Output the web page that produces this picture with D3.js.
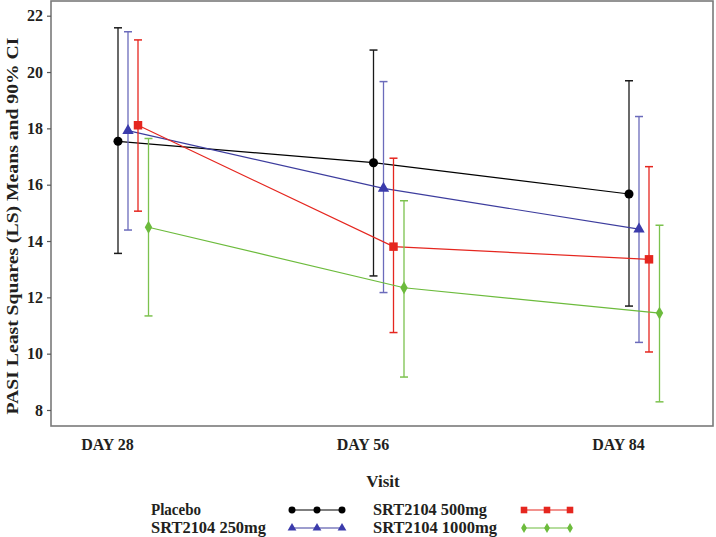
<!DOCTYPE html>
<html><head><meta charset="utf-8">
<script src="https://cdn.jsdelivr.net/npm/d3@7"></script>
<style>body{margin:0;background:#fff}svg{display:block}</style>
</head><body>
<svg id="c" width="716" height="537"></svg>
<script>
const days = ["DAY 28", "DAY 56", "DAY 84"];
const groups = ["Placebo", "SRT2104 250mg", "SRT2104 500mg", "SRT2104 1000mg"];
const yTicks = [8, 10, 12, 14, 16, 18, 20, 22];
// LS means and 90% CI (lower, upper) per group, per day
const placeboMean = [17.54, 16.78, 15.67];
const placeboLow  = [13.56, 12.76, 11.69];
const placeboHigh = [21.57, 20.78, 19.69];
const d250Mean = [17.92, 15.87, 14.42];
const d250Low  = [14.39, 12.17, 10.40];
const d250High = [21.43, 19.66, 18.42];
const d500Mean = [18.11, 13.80, 13.35];
const d500Low  = [15.06, 10.75, 10.06];
const d500High = [21.14, 16.94, 16.64];
const d1000Mean = [14.49, 12.34, 11.44];
const d1000Low  = [11.34, 9.17, 8.29];
const d1000High = [17.64, 15.43, 14.56];

const series = [
  {name: groups[0], mean: placeboMean, low: placeboLow, high: placeboHigh, line: "#000000", bar: "#1a1a1a", sym: "circle", fill: "#000"},
  {name: groups[1], mean: d250Mean, low: d250Low, high: d250High, line: "#3d3d9e", bar: "#6b6bbb", sym: "triangle", fill: "#3b3bab"},
  {name: groups[2], mean: d500Mean, low: d500Low, high: d500High, line: "#e5261f", bar: "#e5261f", sym: "square", fill: "#e5261f"},
  {name: groups[3], mean: d1000Mean, low: d1000Low, high: d1000High, line: "#6cbb3c", bar: "#7cc24e", sym: "diamond", fill: "#6cbb3c"}
];

const svg = d3.select("#c");
const font = "'Liberation Serif','Times New Roman',serif";
const frame = {l: 51, r: 713, t: 1, b: 426};

const x = d3.scalePoint().domain(days).range([107, 618]).padding(0);
const y = d3.scaleLinear().domain([8, 22]).range([410, 15.7]);
const offsets = [11, 21, 31, 41.5];

// frame
svg.append("rect").attr("x", frame.l).attr("y", frame.t)
  .attr("width", frame.r - frame.l).attr("height", frame.b - frame.t)
  .attr("fill", "none").attr("stroke", "#7a7a7a").attr("stroke-width", 1.6);

// y axis
const yAxis = d3.axisLeft(y).tickValues(yTicks).tickSize(4).tickPadding(4).tickFormat(d3.format("d"));
const ya = svg.append("g").attr("transform", `translate(${frame.l},0)`).call(yAxis);
ya.select(".domain").remove();
ya.selectAll("line").attr("stroke", "#555").attr("stroke-width", 1.2);
ya.selectAll("text").attr("font-family", font).attr("font-weight", "bold")
  .attr("font-size", 16).attr("fill", "#231f20");

// x axis labels
const xAxis = d3.axisBottom(x).tickSize(0).tickPadding(13);
const xa = svg.append("g").attr("transform", `translate(0,${frame.b})`).call(xAxis);
xa.select(".domain").remove();
xa.selectAll("text").attr("font-family", font).attr("font-weight", "bold")
  .attr("font-size", 16).attr("fill", "#231f20");

// axis titles
svg.append("text").attr("x", 383).attr("y", 487).attr("text-anchor", "middle")
  .attr("font-family", font).attr("font-weight", "bold").attr("font-size", 17)
  .attr("fill", "#231f20").text("Visit");
svg.append("text").attr("transform", "translate(18,226) rotate(-90)")
  .attr("text-anchor", "middle").attr("font-family", font).attr("font-weight", "bold")
  .attr("font-size", 17).attr("fill", "#231f20")
  .attr("textLength", 377).attr("lengthAdjust", "spacingAndGlyphs")
  .text("PASI Least Squares (LS) Means and 90% CI");

function symbolPath(sym, k) {
  k = k || 1;
  if (sym === "circle") return d3.symbol(d3.symbolCircle, 64 * k)();
  if (sym === "triangle") return d3.symbol(d3.symbolTriangle, 56 * k)();
  if (sym === "square") return d3.symbol(d3.symbolSquare, 72 * k)();
  return d3.symbol(d3.symbolDiamond, 48 * k)();
}

const plot = svg.append("g");
series.forEach((s, gi) => {
  const px = d => x(d) + offsets[gi];
  const g = plot.append("g");
  g.append("path").datum(days)
    .attr("d", d3.line().x(d => px(d)).y((d, i) => y(s.mean[i])))
    .attr("fill", "none").attr("stroke", s.line).attr("stroke-width", 1.2);
  days.forEach((d, i) => {
    const cx = px(d);
    g.append("line").attr("x1", cx).attr("x2", cx).attr("y1", y(s.low[i])).attr("y2", y(s.high[i]))
      .attr("stroke", s.bar).attr("stroke-width", 1.3);
    [s.low[i], s.high[i]].forEach(v => {
      g.append("line").attr("x1", cx - 4).attr("x2", cx + 4).attr("y1", y(v)).attr("y2", y(v))
        .attr("stroke", s.bar).attr("stroke-width", 1.5);
    });
  });
  g.selectAll("path.m").data(days).join("path").attr("class", "m")
    .attr("transform", (d, i) => `translate(${px(d)},${y(s.mean[i])})`)
    .attr("d", symbolPath(s.sym)).attr("fill", s.fill);
});

// legend
const legendPos = [
  {tx: 151, ty: 515, w: 50, lx: 292, lx2: 342},
  {tx: 151, ty: 533, w: 115, lx: 292, lx2: 342},
  {tx: 373, ty: 515, w: 114, lx: 524, lx2: 570},
  {tx: 373, ty: 533, w: 124, lx: 524, lx2: 570}
];
series.forEach((s, i) => {
  const p = legendPos[i];
  const cy = p.ty - 5;
  const lg = svg.append("g");
  lg.append("text").attr("x", p.tx).attr("y", p.ty).attr("font-family", font)
    .attr("font-weight", "bold").attr("font-size", 16).attr("fill", "#231f20")
    .attr("textLength", p.w).attr("lengthAdjust", "spacingAndGlyphs").text(s.name);
  lg.append("line").attr("x1", p.lx).attr("x2", p.lx2).attr("y1", cy).attr("y2", cy)
    .attr("stroke", s.line).attr("stroke-width", 1.2);
  [p.lx, (p.lx + p.lx2) / 2, p.lx2].forEach(mx => {
    lg.append("path").attr("transform", `translate(${mx},${cy})`)
      .attr("d", symbolPath(s.sym, 0.6)).attr("fill", s.fill);
  });
});
</script>
</body></html>
